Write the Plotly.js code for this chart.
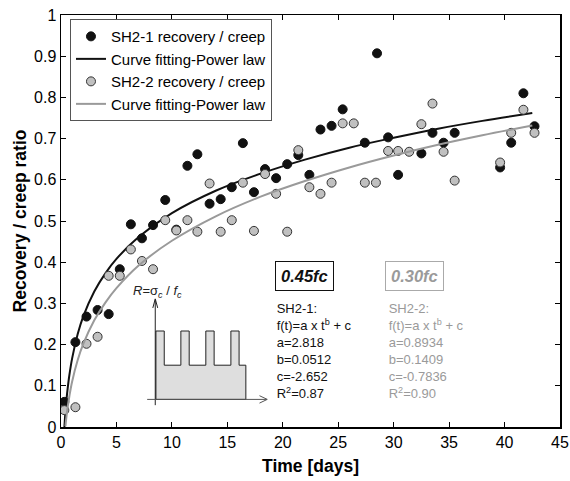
<!DOCTYPE html>
<html><head><meta charset="utf-8">
<script src="https://cdn.plot.ly/plotly-3.0.1.min.js"></script>
<style>html,body{margin:0;padding:0;background:#fff}#chart{width:570px;height:481px}</style>
</head><body><div id="chart"></div>
<script>
// SH2-1 measured recovery / creep ratio
const t1 = [0.3,1.3,2.3,3.3,4.3,5.3,6.3,7.3,8.3,9.4,10.4,11.4,12.3,13.4,14.4,15.4,16.4,17.4,18.4,19.4,20.4,21.4,22.4,23.4,24.4,25.4,27.4,28.5,29.5,30.4,32.5,33.5,34.5,35.5,39.6,40.6,41.7,42.7];
const r1 = [0.061,0.206,0.268,0.284,0.274,0.383,0.492,0.458,0.490,0.551,0.479,0.634,0.662,0.542,0.553,0.582,0.689,0.570,0.626,0.604,0.638,0.660,0.612,0.722,0.731,0.771,0.690,0.907,0.703,0.612,0.664,0.714,0.690,0.714,0.630,0.690,0.810,0.730];
// SH2-2 measured recovery / creep ratio
const t2 = [0.3,1.3,2.3,3.3,4.3,5.3,6.3,7.3,8.3,9.4,10.4,11.4,12.3,13.4,14.4,15.4,16.4,17.4,18.4,19.4,20.4,21.4,22.4,23.4,24.4,25.4,26.4,27.4,28.4,29.5,30.4,31.4,32.5,33.5,34.5,35.5,39.6,40.6,41.7,42.7];
const r2 = [0.041,0.048,0.202,0.219,0.367,0.367,0.431,0.403,0.383,0.502,0.477,0.502,0.474,0.591,0.474,0.502,0.593,0.476,0.614,0.566,0.474,0.672,0.582,0.566,0.593,0.737,0.737,0.593,0.593,0.670,0.670,0.668,0.735,0.785,0.668,0.598,0.642,0.714,0.770,0.714];
// Power-law fitted curves
const fitT1 = [0.3,0.4,0.5,0.6,0.75,1,1.5,2,3,4,5,7,10,14,18,22,26,30,34,38,42.5];
const fitR1 = [-0.003,0.037,0.068,0.093,0.125,0.166,0.225,0.268,0.329,0.373,0.408,0.461,0.519,0.574,0.615,0.649,0.678,0.702,0.724,0.743,0.762];
const fitT2 = [0.4,0.5,0.6,0.75,1,1.5,2,3,4,5,7,10,14,18,22,26,30,34,38,42.5];
const fitR2 = [0.002,0.027,0.048,0.074,0.110,0.162,0.201,0.259,0.302,0.337,0.392,0.452,0.512,0.559,0.597,0.630,0.659,0.685,0.708,0.732];
const xTicks = [0,5,10,15,20,25,30,35,40,45];
const yTicks = [0,0.1,0.2,0.3,0.4,0.5,0.6,0.7,0.8,0.9,1];
const legendNames = ['SH2-1 recovery / creep','Curve fitting-Power law','SH2-2 recovery / creep','Curve fitting-Power law'];
const fit1Lines = ['SH2-1:','f(t)=a x t<sup>b</sup> + c','a=2.818','b=0.0512','c=-2.652','R<sup>2</sup>=0.87'];
const fit2Lines = ['SH2-2:','f(t)=a x t<sup>b</sup> + c','a=0.8934','b=0.1409','c=-0.7836','R<sup>2</sup>=0.90'];

const FONT = 'Arial, "Liberation Sans", Helvetica, sans-serif';
const GRAY = '#9a9a9a';

// text-block placement (layout, in axis units)
const lineY = [0.284,0.243,0.2015,0.160,0.119,0.078];
const block1X = lineY.map(()=>19.45);
const block2X = lineY.map(()=>29.55);

const traces = [
  {x:t1, y:r1, mode:'markers', type:'scatter', name:legendNames[0],
   marker:{size:9, color:'#111', line:{color:'#111', width:1}}},
  {x:fitT1, y:fitR1, mode:'lines', type:'scatter', name:legendNames[1],
   line:{color:'#111', width:2, shape:'spline', smoothing:1}},
  {x:t2, y:r2, mode:'markers', type:'scatter', name:legendNames[2],
   marker:{size:9, color:'#c0c0c0', line:{color:'#333', width:1}}},
  {x:fitT2, y:fitR2, mode:'lines', type:'scatter', name:legendNames[3],
   line:{color:GRAY, width:2, shape:'spline', smoothing:1}},
  {x:block1X, y:lineY, mode:'text', type:'scatter', text:fit1Lines, textposition:'middle right',
   textfont:{family:FONT, size:13, color:'#111'}, showlegend:false, hoverinfo:'skip', cliponaxis:false},
  {x:block2X, y:lineY, mode:'text', type:'scatter', text:fit2Lines, textposition:'middle right',
   textfont:{family:FONT, size:13, color:GRAY}, showlegend:false, hoverinfo:'skip', cliponaxis:false}
];

// inset load-history diagram (decoration, placed in axis units)
const pulse = 'M 8.56 0.067 L 8.56 0.233 L 9.31 0.233 L 9.31 0.150 L 10.81 0.150 L 10.81 0.233 L 11.56 0.233 L 11.56 0.150 L 13.06 0.150 L 13.06 0.233 L 13.81 0.233 L 13.81 0.150 L 15.32 0.150 L 15.32 0.233 L 16.06 0.233 L 16.06 0.150 L 16.67 0.150 L 16.67 0.067 Z';

const annots = [
  {xref:'x', yref:'y', x:8.72, y:0.330, text:'<i>R</i>=σ<sub><i>c</i></sub> / <i>f<sub>c</sub></i>', showarrow:false,
   font:{family:FONT, size:13, color:'#222'}},
  {xref:'x', yref:'y', x:22.0, y:0.366, text:'<b><i>0.45fc</i></b>', showarrow:false,
   font:{family:FONT, size:16.5, color:'#111'}, bordercolor:'#111', borderwidth:1, borderpad:5, bgcolor:'#fff'},
  {xref:'x', yref:'y', x:31.9, y:0.366, text:'<b><i>0.30fc</i></b>', showarrow:false,
   font:{family:FONT, size:16.5, color:GRAY}, bordercolor:'#aaa', borderwidth:1, borderpad:5, bgcolor:'#fff'}
];

const layout = {
  width:570, height:481,
  margin:{l:61, r:10, t:15, b:54},
  paper_bgcolor:'#fff', plot_bgcolor:'#fff',
  font:{family:FONT, size:16, color:'#000'},
  showlegend:true,
  legend:{x:0.018, y:0.99, xanchor:'left', yanchor:'top', bgcolor:'#fff',
          bordercolor:'#555', borderwidth:1, font:{family:FONT, size:15, color:'#000'},
          tracegroupgap:0, itemwidth:30},
  xaxis:{range:[0,45], tickvals:xTicks, ticks:'inside', ticklen:5, tickcolor:'#000',
         showline:true, linecolor:'#000', linewidth:1.5, mirror:'ticks', showgrid:false, zeroline:false,
         tickfont:{family:FONT, size:16},
         title:{text:'<b>Time [days]</b>', font:{family:FONT, size:17.5}, standoff:10}},
  yaxis:{range:[0,1], tickvals:yTicks, ticks:'inside', ticklen:5, tickcolor:'#000',
         showline:true, linecolor:'#000', linewidth:1.5, mirror:'ticks', showgrid:false, zeroline:false,
         tickfont:{family:FONT, size:16},
         title:{text:'<b>Recovery / creep ratio</b>', font:{family:FONT, size:17.5}, standoff:3}},
  shapes:[
    {type:'path', xref:'x', yref:'y', path:pulse, fillcolor:'#dedede', line:{color:'#222', width:1}, layer:'above'},
    {type:'line', xref:'x', yref:'y', x0:8.5, y0:0.053, x1:8.5, y1:0.309, line:{color:'#222', width:1}, layer:'above'},
    {type:'path', xref:'x', yref:'y', path:'M 8.28 0.289 L 8.5 0.311 L 8.72 0.289', line:{color:'#222', width:1}, layer:'above'},
    {type:'line', xref:'x', yref:'y', x0:7.77, y0:0.067, x1:18.55, y1:0.067, line:{color:'#555', width:1}, layer:'above'},
    {type:'path', xref:'x', yref:'y', path:'M 17.9 0.076 L 18.6 0.067 L 17.9 0.058', line:{color:'#555', width:1}, layer:'above'}
  ],
  annotations:annots
};

Plotly.newPlot('chart', traces, layout, {displayModeBar:false, staticPlot:true});
</script></body></html>
